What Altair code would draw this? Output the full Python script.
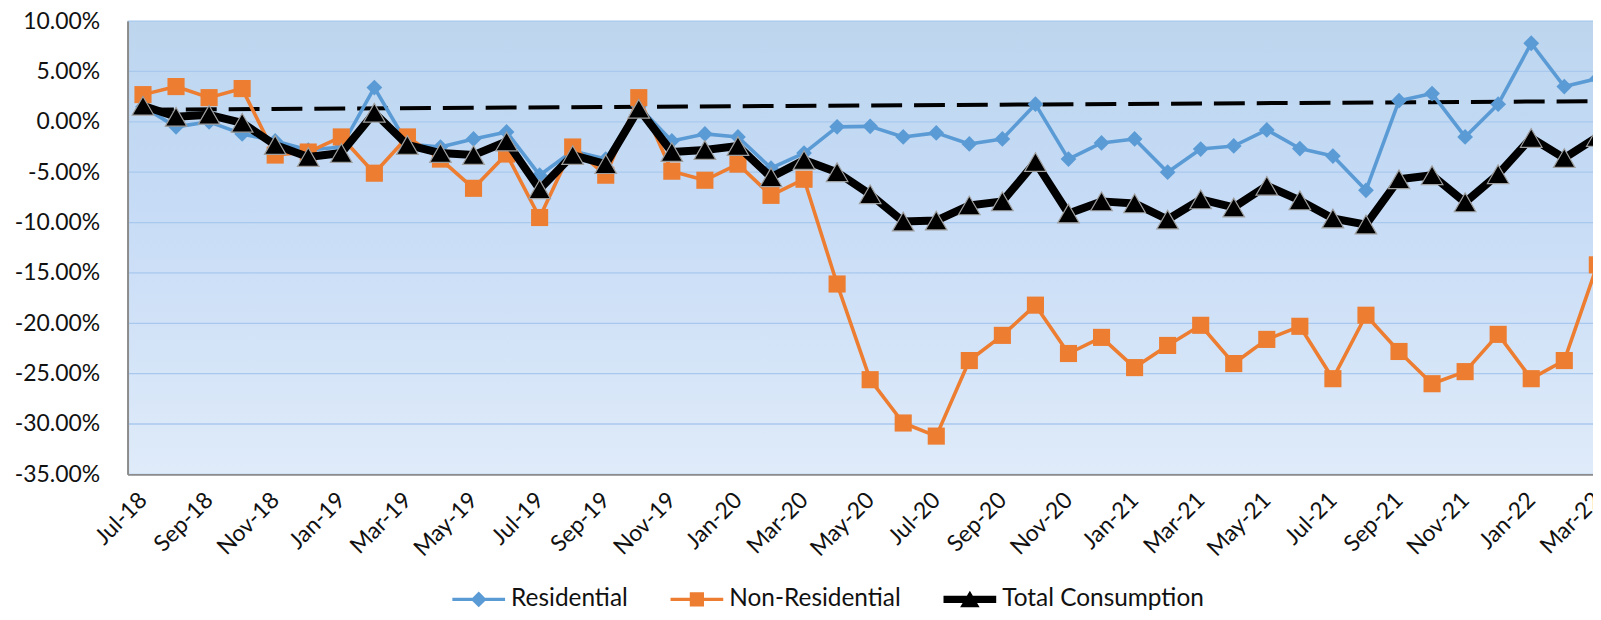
import json
import altair as alt
import pandas as pd

months = ["Jul-18", "Aug-18", "Sep-18", "Oct-18", "Nov-18", "Dec-18",
          "Jan-19", "Feb-19", "Mar-19", "Apr-19", "May-19", "Jun-19",
          "Jul-19", "Aug-19", "Sep-19", "Oct-19", "Nov-19", "Dec-19",
          "Jan-20", "Feb-20", "Mar-20", "Apr-20", "May-20", "Jun-20",
          "Jul-20", "Aug-20", "Sep-20", "Oct-20", "Nov-20", "Dec-20",
          "Jan-21", "Feb-21", "Mar-21", "Apr-21", "May-21", "Jun-21",
          "Jul-21", "Aug-21", "Sep-21", "Oct-21", "Nov-21", "Dec-21",
          "Jan-22", "Feb-22", "Mar-22"]

residential = [1.5, -0.5, 0.0, -1.2, -1.9, -2.8, -2.5, 3.4, -2.2, -2.5, -1.7, -1.0,
               -5.3, -2.9, -3.7, 1.5, -1.9, -1.2, -1.5, -4.6, -3.1, -0.5, -0.45, -1.5,
               -1.1, -2.2, -1.7, 1.75, -3.7, -2.1, -1.7, -5.0, -2.7, -2.4, -0.8, -2.65,
               -3.4, -6.8, 2.1, 2.8, -1.5, 1.75, 7.8, 3.5, 4.3]

non_residential = [2.7, 3.5, 2.4, 3.3, -3.3, -3.0, -1.5, -5.1, -1.5, -3.7, -6.6, -3.2,
                   -9.5, -2.5, -5.3, 2.4, -4.9, -5.8, -4.2, -7.3, -5.7, -16.1, -25.6, -29.9,
                   -31.2, -23.7, -21.2, -18.2, -23.0, -21.4, -24.4, -22.2, -20.2, -24.0, -21.6, -20.3,
                   -25.5, -19.2, -22.8, -26.0, -24.8, -21.1, -25.5, -23.7, -14.2]

total = [1.6, 0.5, 0.7, -0.1, -2.3, -3.5, -3.1, 0.9, -2.3, -3.1, -3.3, -1.95,
         -6.7, -3.3, -4.2, 1.3, -3.0, -2.8, -2.4, -5.5, -3.8, -5.0, -7.2, -9.9,
         -9.8, -8.3, -7.9, -4.0, -9.1, -7.9, -8.1, -9.7, -7.7, -8.5, -6.35, -7.8,
         -9.6, -10.2, -5.7, -5.3, -8.0, -5.2, -1.6, -3.6, -1.5]

trend_values = [1.2, 2.05]          # trend line at first and last month
y_ticks = [10, 5, 0, -5, -10, -15, -20, -25, -30, -35]
x_tick_months = months[::2]

series_names = ["Residential", "Non-Residential", "Total Consumption"]
series_colors = ["#5B9BD5", "#ED7D31", "#000000"]

FONT = "Lato"
TEXT = "#111111"

idx = list(range(len(months)))
x_tick_idx = [months.index(m) for m in x_tick_months]

label_expr = json.dumps(months) + "[datum.value]"

x_enc = alt.X(
    "idx:Q",
    title=None,
    scale=alt.Scale(domain=[-0.467, 44.11], nice=False, zero=False),
    axis=alt.Axis(values=x_tick_idx, labelExpr=label_expr, labelAngle=-45,
                  labelAlign="right", labelBaseline="middle", labelFont=FONT,
                  labelFontSize=23, labelColor=TEXT, labelPadding=22, ticks=False,
                  grid=False, domainColor="#8C8C8C", domainWidth=2, labelOverlap=False,
                  labelBound=False, labelFlush=False, zindex=1),
)
y_enc = alt.Y(
    "value:Q",
    title=None,
    scale=alt.Scale(domain=[-35, 10], nice=False, zero=False),
    axis=alt.Axis(values=y_ticks,
                  labelExpr="(datum.value < 0 ? '-' : '') + format(abs(datum.value), '.2f') + '%'",
                  labelFont=FONT, labelFontSize=23, labelColor=TEXT, labelPadding=28,
                  ticks=False, grid=False, domainColor="#8C8C8C", domainWidth=2, zindex=1),
)

gradient = {
    "gradient": "linear", "x1": 0, "y1": 0, "x2": 0, "y2": 1,
    "stops": [
        {"offset": 0, "color": "#BDD6EE"},
        {"offset": 0.4, "color": "#C6DBF6"},
        {"offset": 1, "color": "#DFEBF9"},
    ],
}

bg = alt.Chart(pd.DataFrame({"a": [0]})).mark_rect(fill=gradient).encode(
    x=alt.value(0), x2=alt.value("width"), y=alt.value(0), y2=alt.value("height")
)

grid = alt.Chart(pd.DataFrame({"value": y_ticks})).mark_rule(
    color="#A8C8EE", strokeWidth=1.3
).encode(y=y_enc)

trend = alt.Chart(pd.DataFrame({"idx": [idx[0], idx[-1]], "value": trend_values})).mark_line(
    color="#000000", strokeWidth=4, strokeDash=[31, 12]
).encode(x=x_enc, y=y_enc)


def series_df(name, vals):
    return pd.DataFrame({"idx": idx, "month": months, "series": name, "value": vals})


res_df = series_df("Residential", residential)
non_df = series_df("Non-Residential", non_residential)
tot_df = series_df("Total Consumption", total)

res_line = alt.Chart(res_df).mark_line(color=series_colors[0], strokeWidth=3.6, strokeJoin="round").encode(x=x_enc, y=y_enc)
res_pts = alt.Chart(res_df).mark_point(shape="diamond", filled=True, size=250, color=series_colors[0], opacity=1).encode(x=x_enc, y=y_enc)

non_line = alt.Chart(non_df).mark_line(color=series_colors[1], strokeWidth=3.6, strokeJoin="round").encode(x=x_enc, y=y_enc)
non_pts = alt.Chart(non_df).mark_point(shape="square", filled=True, size=295, color=series_colors[1], opacity=1).encode(x=x_enc, y=y_enc)

tot_line = alt.Chart(tot_df).mark_line(color=series_colors[2], strokeWidth=8, strokeJoin="round").encode(x=x_enc, y=y_enc)
tot_pts = alt.Chart(tot_df).mark_point(shape="triangle-up", filled=True, size=470, fill="#000000",
                                       stroke="#A0A0A0", strokeWidth=1.2, opacity=1).encode(x=x_enc, y=y_enc)

legend_paths = [
    "M-1,-0.065H1V0.065H-1Z M0,-0.3L0.3,0L0,0.3L-0.3,0Z",
    "M-1,-0.065H1V0.065H-1Z M-0.27,-0.27H0.27V0.27H-0.27Z",
    "M-1,-0.14H1V0.14H-1Z M0,-0.33L0.37,0.3L-0.37,0.3Z",
]

legend_props = dict(
    title=None, orient="none", legendX=326, legendY=554, direction="horizontal",
    columns=3, symbolSize=2800, symbolStrokeWidth=0, symbolOpacity=1,
    labelFont=FONT, labelFontSize=24.5, labelColor=TEXT, labelOffset=6, labelLimit=0,
    columnPadding=42, padding=0,
)

legend_layer = alt.Chart(pd.DataFrame({"series": series_names})).transform_filter(
    "false"
).mark_point(filled=True, opacity=1).encode(
    color=alt.Color("series:N", scale=alt.Scale(domain=series_names, range=series_colors),
                    legend=alt.Legend(**legend_props)),
    shape=alt.Shape("series:N", scale=alt.Scale(domain=series_names, range=legend_paths),
                    legend=alt.Legend(**legend_props)),
)

chart = alt.layer(
    bg, grid, trend, res_line, res_pts, non_line, non_pts, tot_line, tot_pts, legend_layer
).properties(
    width=1479, height=455,
    autosize=alt.AutoSizeParams(type="none"),
    padding={"left": 120, "top": 12, "right": -8, "bottom": 135},
).configure_view(stroke=None).configure(background="#FFFFFF")

chart.save("out.html", embed_options={"renderer": "svg", "actions": False})
